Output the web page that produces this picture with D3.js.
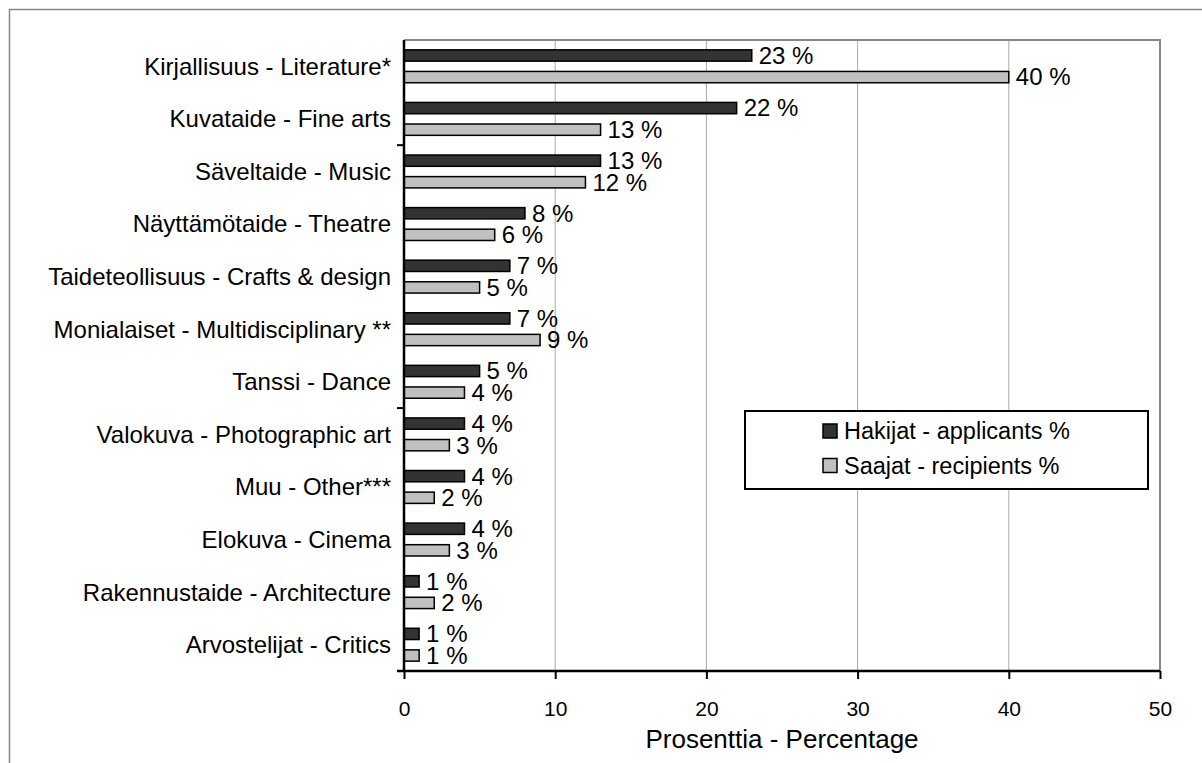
<!DOCTYPE html>
<html><head><meta charset="utf-8">
<script src="https://cdn.jsdelivr.net/npm/d3@7"></script>
<style>body{margin:0;background:#fff}svg{display:block;font-family:Arial,"Liberation Sans",sans-serif}</style>
</head><body>
<svg id="c" width="1202" height="763"></svg>
<script>
const categories = ["Kirjallisuus - Literature*","Kuvataide - Fine arts","Säveltaide - Music","Näyttämötaide - Theatre","Taideteollisuus - Crafts & design","Monialaiset - Multidisciplinary **","Tanssi - Dance","Valokuva - Photographic art","Muu - Other***","Elokuva - Cinema","Rakennustaide - Architecture","Arvostelijat - Critics"];
const applicants = [23,22,13,8,7,7,5,4,4,4,1,1];
const recipients = [40,13,12,6,5,9,4,3,2,3,2,1];
const seriesNames = ["Hakijat - applicants %","Saajat - recipients %"];
const xTicks = [0,10,20,30,40,50];
const xTitle = "Prosenttia - Percentage";

const svg = d3.select("#c");
const L=404, R=1160, T=40, B=671;
const x = d3.scaleLinear().domain([0,50]).range([L,R]);
const y = d3.scaleBand().domain(categories).range([T,B]);
const colors = ["#333333","#c0c0c0"];

// outer frame
svg.append("rect").attr("x",9.5).attr("y",9.5).attr("width",1400).attr("height",1000).attr("fill","none").attr("stroke","#888").attr("stroke-width",1.5);

// gridlines
svg.append("g").selectAll("line").data(xTicks.filter(d=>d>0&&d<50)).join("line")
  .attr("x1",d=>x(d)).attr("x2",d=>x(d)).attr("y1",T).attr("y2",B)
  .attr("stroke","#aaa").attr("stroke-width",1);
// plot border top/right
svg.append("path").attr("d",`M${L},${T}H${R}V${B}`).attr("fill","none").attr("stroke","#888").attr("stroke-width",2);

const bh = 11.3, off = 10.8;
const series = [applicants, recipients];
series.forEach((vals,si)=>{
  const g = svg.append("g");
  g.selectAll("rect").data(vals).join("rect")
    .attr("x",x(0)).attr("y",(d,i)=>y(categories[i])+y.bandwidth()/2+(si?off:-off)-bh/2)
    .attr("width",d=>x(d)-x(0)).attr("height",bh)
    .attr("fill",colors[si]).attr("stroke","#000").attr("stroke-width",1.5);
  g.selectAll("text").data(vals).join("text")
    .attr("x",d=>x(d)+7).attr("y",(d,i)=>y(categories[i])+y.bandwidth()/2+(si?off:-off))
    .attr("dy","0.35em").attr("font-size",24).text(d=>d+" %");
});

// x axis
const xa = svg.append("g").attr("transform",`translate(0,${B})`)
  .call(d3.axisBottom(x).tickValues(xTicks).tickSize(8).tickPadding(22).tickSizeOuter(0));
xa.select(".domain").attr("stroke","#000").attr("stroke-width",2.5).attr("d",`M${L-7},0H${R}`);
xa.selectAll(".tick line").attr("stroke","#000").attr("stroke-width",2);
xa.selectAll("text").attr("font-size",21).attr("font-family","Arial,'Liberation Sans',sans-serif").attr("fill","#000");

// y axis
svg.append("line").attr("x1",L).attr("x2",L).attr("y1",T).attr("y2",B).attr("stroke","#000").attr("stroke-width",2.5);
const bounds = [2,7,12];
svg.append("g").selectAll("line").data(bounds).join("line")
  .attr("x1",L-7).attr("x2",L).attr("y1",d=>T+d*y.step()).attr("y2",d=>T+d*y.step())
  .attr("stroke","#000").attr("stroke-width",2);
svg.append("g").selectAll("text").data(categories).join("text")
  .attr("x",391).attr("y",d=>y(d)+y.bandwidth()/2).attr("dy","0.35em")
  .attr("text-anchor","end").attr("font-size",24).text(d=>d);

svg.append("text").attr("x",x(25)).attr("y",739).attr("dy","0.35em").attr("text-anchor","middle")
  .attr("font-size",26).text(xTitle);

// legend
const lg = svg.append("g");
lg.append("rect").attr("x",745).attr("y",411).attr("width",403).attr("height",78).attr("fill","#fff").attr("stroke","#000").attr("stroke-width",2);
seriesNames.forEach((n,i)=>{
  const cy = 431+i*34.5;
  lg.append("rect").attr("x",823).attr("y",cy-7).attr("width",14).attr("height",14).attr("fill",colors[i]).attr("stroke","#000").attr("stroke-width",1.5);
  lg.append("text").attr("x",844).attr("y",cy).attr("dy","0.35em").attr("font-size",23.5).text(n);
});
</script>
</body></html>
